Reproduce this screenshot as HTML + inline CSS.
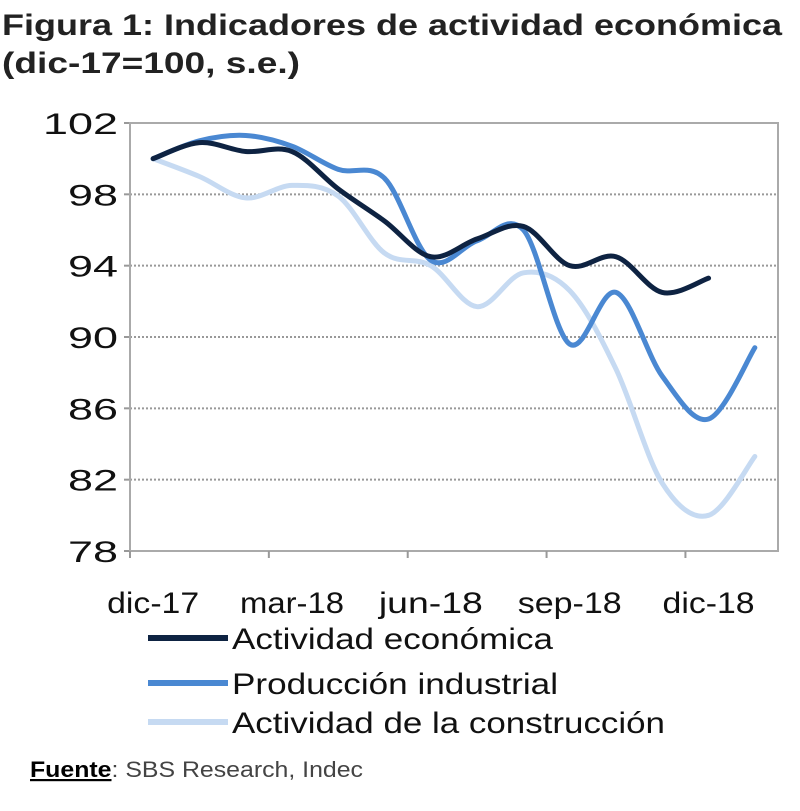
<!DOCTYPE html>
<html><head><meta charset="utf-8"><style>
body{margin:0;background:#fff;width:800px;height:806px;overflow:hidden;font-family:"Liberation Sans",sans-serif}
</style></head><body>
<svg width="800" height="806" font-family="Liberation Sans, sans-serif">
<text x="2" y="35" font-size="30" font-weight="bold" fill="#222" textLength="780" lengthAdjust="spacingAndGlyphs">Figura 1: Indicadores de actividad económica</text>
<text x="2" y="73" font-size="30" font-weight="bold" fill="#222" textLength="298" lengthAdjust="spacingAndGlyphs">(dic-17=100, s.e.)</text>
<g id="grid"></g><g id="axes"></g><g id="series"></g><g id="legend"></g>
<text x="30" y="777" font-size="22" fill="#444" textLength="333" lengthAdjust="spacingAndGlyphs"><tspan font-weight="bold" text-decoration="underline" fill="#000">Fuente</tspan>: SBS Research, Indec</text>
</svg>
<script>
const months=["dic-17","ene-18","feb-18","mar-18","abr-18","may-18","jun-18","jul-18","ago-18","sep-18","oct-18","nov-18","dic-18","ene-19"];
const yTicks=[78,82,86,90,94,98,102];
const xLabels=["dic-17","mar-18","jun-18","sep-18","dic-18"];
const actividad=[100,100.9,100.4,100.4,98.3,96.5,94.5,95.5,96.2,94.0,94.5,92.5,93.3];
const produccion=[100,101,101.3,100.7,99.4,98.9,94.3,95.4,96.0,89.6,92.5,87.8,85.4,89.4];
const construccion=[100,99.0,97.8,98.5,97.9,94.7,94.0,91.7,93.6,92.6,88.2,81.8,80.0,83.3];
const L=130,R=778,T=123,B=551,ns="http://www.w3.org/2000/svg";
const bw=(R-L)/months.length;
const x=i=>L+bw*(i+0.5);
const y=v=>B-(v-78)/(102-78)*(B-T);
function mk(t,a,p){const e=document.createElementNS(ns,t);for(const k in a)e.setAttribute(k,a[k]);p.appendChild(e);return e;}
const g=document.getElementById('grid'),ax=document.getElementById('axes'),sg=document.getElementById('series'),lg=document.getElementById('legend');
yTicks.forEach(v=>{
 if(v>78){const l=mk('line',{x1:L,x2:R,y1:y(v),y2:y(v),stroke:'#999','stroke-width':2,'stroke-dasharray':'2 2'},g);
 
 }
 const s=String(v);
 const t=mk('text',{x:118,y:y(v)+11,'font-size':30,'text-anchor':'end',fill:'#111',textLength:s.length*25,lengthAdjust:'spacingAndGlyphs'},ax);t.textContent=s;
 
 
 mk('line',{x1:L-6,x2:L,y1:y(v),y2:y(v),stroke:'#999','stroke-width':2},ax);
});
mk('rect',{x:L,y:T,width:R-L,height:B-T,fill:'none',stroke:'#aaa','stroke-width':2},ax);
for(let i=0;i<=months.length;i+=3){mk('line',{x1:L+bw*i,x2:L+bw*i,y1:B,y2:B+7,stroke:'#999','stroke-width':2},ax);}
xLabels.forEach(lab=>{const i=months.indexOf(lab);const t=mk('text',{x:x(i),y:613,'font-size':30,'text-anchor':'middle',fill:'#111',textLength:lab.startsWith('dic')?92:104,lengthAdjust:'spacingAndGlyphs'},ax);t.textContent=lab;
 
 });
function path(vals){const p=vals.map((v,i)=>[x(i),y(v)]);let d='M'+p[0][0]+','+p[0][1];
 for(let i=0;i<p.length-1;i++){const p0=p[i-1]||p[i],p1=p[i],p2=p[i+1],p3=p[i+2]||p2;
 d+=` C${p1[0]+(p2[0]-p0[0])/6},${p1[1]+(p2[1]-p0[1])/6} ${p2[0]-(p3[0]-p1[0])/6},${p2[1]-(p3[1]-p1[1])/6} ${p2[0]},${p2[1]}`;}return d;}
const series=[["Actividad de la construcción",construccion,"#c6daf2","line-construccion"],["Producción industrial",produccion,"#4a88d2","line-produccion"],["Actividad económica",actividad,"#0e2342","line-actividad"]];
series.forEach(s=>{const e=mk('path',{d:path(s[1]),fill:'none',stroke:s[2],'stroke-width':5,'stroke-linecap':'round'},sg);
 
 });
[["Actividad económica","#0e2342",638,321],["Producción industrial","#4a88d2",683,326],["Actividad de la construcción","#c6daf2",722,433]].forEach(l=>{
 const ln=mk('line',{x1:148,x2:228,y1:l[2],y2:l[2],stroke:l[1],'stroke-width':6},lg);
 
 
 const t=mk('text',{x:232,y:l[2]+11,'font-size':30,fill:'#111',textLength:l[3],lengthAdjust:'spacingAndGlyphs'},lg);t.textContent=l[0];
 
 });
</script>
</body></html>
